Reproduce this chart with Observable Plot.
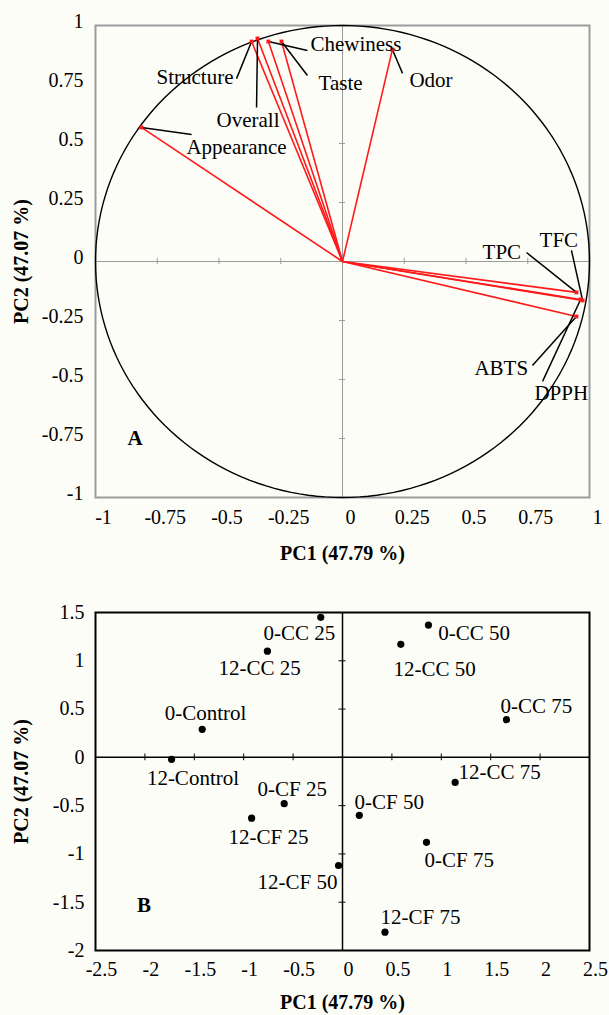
<!DOCTYPE html>
<html>
<head>
<meta charset="utf-8">
<script src="https://cdn.jsdelivr.net/npm/d3@7"></script>
<script src="https://cdn.jsdelivr.net/npm/@observablehq/plot@0.6"></script>
<style>
  html, body { margin: 0; padding: 0; background: #fdfdf8; }
  #wrap { position: relative; width: 609px; height: 1015px; overflow: hidden; }
  #wrap > svg { position: absolute; left: 0; }
  g[aria-label="x-axis label"] text, g[aria-label="y-axis label"] text { font-weight: bold; }
</style>
</head>
<body>
<div id="wrap"></div>
<script>
// ---------- Panel A: loadings ----------
const loadVars = ["Appearance", "Structure", "Overall", "Chewiness", "Taste", "Odor", "TPC", "TFC", "DPPH", "ABTS"];
const loadPC1  = [-0.814, -0.368, -0.344, -0.300, -0.247, 0.202, 0.947, 0.972, 0.964, 0.947];
const loadPC2  = [ 0.568,  0.932,  0.945,  0.932,  0.932, 0.898, -0.131, -0.165, -0.161, -0.233];
// annotation placement (data units): label left edge / middle, and leader start
const loadLabelX  = [-0.632, -0.753, -0.510, -0.130, -0.097, 0.271, 0.567, 0.798, 0.777, 0.534];
const loadLabelY  = [ 0.483,  0.780,  0.597,  0.919,  0.754, 0.767, 0.038, 0.089, -0.559, -0.453];
const leaderX     = [-0.611, -0.429, -0.348, -0.142, -0.142, 0.243, 0.745, 0.927, 0.810, 0.769];
const leaderY     = [ 0.538,  0.775,  0.653,  0.894,  0.788, 0.797, 0.038, 0.047, -0.508, -0.441];
const topTicks = [-1, -0.75, -0.5, -0.25, 0, 0.25, 0.5, 0.75, 1];

// ---------- Panel B: scores ----------
const samples = ["0-CC 25", "12-CC 25", "0-Control", "0-CC 50", "12-CC 50", "0-CC 75", "12-Control",
                 "0-CF 25", "12-CF 25", "12-CF 50", "0-CF 50", "12-CC 75", "0-CF 75", "12-CF 75"];
const scorePC1 = [-0.22, -0.76, -1.42, 0.87, 0.59, 1.66, -1.73, -0.59, -0.92, -0.04, 0.17, 1.14, 0.85, 0.43];
const scorePC2 = [ 1.45,  1.10,  0.29, 1.37, 1.17, 0.39, -0.02, -0.48, -0.63, -1.12, -0.60, -0.26, -0.88, -1.81];
const scoreLabelX = [-0.80, -1.255, -1.80, 0.97, 0.516, 1.60, -1.98, -0.86, -1.154, -0.86, 0.121, 1.174, 0.83, 0.385];
const scoreLabelY = [ 1.29,  0.92,  0.455, 1.29, 0.91, 0.527, -0.217, -0.33, -0.827, -1.293, -0.465, -0.155, -1.065, -1.655];
const bXTicks = [-2.5, -2, -1.5, -1, -0.5, 0, 0.5, 1, 1.5, 2, 2.5];
const bYTicks = [1.5, 1, 0.5, 0, -0.5, -1, -1.5, -2];

const xTitle = "PC1 (47.79 %)";
const yTitle = "PC2 (47.07 %)";

const FONT = '"Liberation Serif", "Times New Roman", serif';
const BG = "#fdfdf8";

const loadings = loadVars.map((name, i) => ({
  name, pc1: loadPC1[i], pc2: loadPC2[i],
  lx: loadLabelX[i], ly: loadLabelY[i], sx: leaderX[i], sy: leaderY[i]
}));
const scores = samples.map((name, i) => ({
  name, pc1: scorePC1[i], pc2: scorePC2[i], lx: scoreLabelX[i], ly: scoreLabelY[i]
}));
// unit correlation circle
const circle = d3.range(0, 361, 2).map(a => ({cx: Math.cos(a * Math.PI / 180), cy: Math.sin(a * Math.PI / 180)}));

const GRAY = "#9c9c9c";
const fmt = d => String(d);

const topPlot = Plot.plot({
  width: 609, height: 575,
  marginLeft: 95, marginRight: 20, marginTop: 25, marginBottom: 78,
  style: {fontFamily: FONT, fontSize: "20px", background: BG, color: "black", overflow: "visible"},
  x: {domain: [-1, 1]},
  y: {domain: [-1, 1]},
  marks: [
    Plot.ruleY([0], {stroke: GRAY, strokeWidth: 1}),
    Plot.ruleX([0], {stroke: GRAY, strokeWidth: 1}),
    Plot.ruleX(topTicks, {x: d => d, y1: -0.013, y2: 0.013, stroke: GRAY}),
    Plot.ruleY(topTicks, {y: d => d, x1: -0.012, x2: 0.012, stroke: GRAY}),
    Plot.frame({stroke: GRAY, strokeWidth: 2}),
    Plot.line(circle, {x: "cx", y: "cy", stroke: "black", strokeWidth: 1.4}),
    Plot.link(loadings, {x1: d => 0, y1: d => 0, x2: "pc1", y2: "pc2", stroke: "#ff1a1a", strokeWidth: 1.6}),
    Plot.link(loadings, {x1: "sx", y1: "sy", x2: "pc1", y2: "pc2", stroke: "black", strokeWidth: 1.5}),
    Plot.dot(loadings, {x: "pc1", y: "pc2", symbol: "square", r: 2.2, fill: "#ff1a1a"}),
    Plot.text(loadings, {x: "lx", y: "ly", text: "name", textAnchor: "start", fontSize: 21, fill: "black"}),
    Plot.text(["A"], {x: -0.87, y: -0.75, text: d => d, textAnchor: "start", fontSize: 21, fontWeight: "bold", fill: "black"}),
    Plot.axisX({ticks: topTicks, tickSize: 0, tickPadding: 12, dx: 8, tickFormat: fmt,
                label: xTitle, labelAnchor: "center", labelArrow: "none", labelOffset: 62, fontSize: 20}),
    Plot.axisY({ticks: topTicks, tickSize: 0, tickPadding: 12, dy: -4, tickFormat: fmt,
                label: yTitle, labelAnchor: "center", labelArrow: "none", labelOffset: 82, fontSize: 20})
  ]
});

const botPlot = Plot.plot({
  width: 609, height: 440,
  marginLeft: 95, marginRight: 20, marginTop: 37, marginBottom: 65,
  style: {fontFamily: FONT, fontSize: "20px", background: BG, color: "black", overflow: "visible"},
  x: {domain: [-2.5, 2.5]},
  y: {domain: [-2, 1.5]},
  marks: [
    Plot.ruleY([0], {stroke: "black", strokeWidth: 1.5}),
    Plot.ruleX([0], {stroke: "black", strokeWidth: 1.5}),
    Plot.ruleX(bXTicks, {x: d => d, y1: -0.035, y2: 0.035, stroke: "black"}),
    Plot.ruleY(bYTicks, {y: d => d, x1: -0.035, x2: 0.035, stroke: "black"}),
    Plot.frame({stroke: "black", strokeWidth: 2}),
    Plot.dot(scores, {x: "pc1", y: "pc2", r: 3.6, fill: "black"}),
    Plot.text(scores, {x: "lx", y: "ly", text: "name", textAnchor: "start", fontSize: 21, fill: "black"}),
    Plot.text(["B"], {x: -2.08, y: -1.53, text: d => d, textAnchor: "start", fontSize: 21, fontWeight: "bold", fill: "black"}),
    Plot.axisX({ticks: bXTicks, tickSize: 0, tickPadding: 11, dx: 6, tickFormat: fmt,
                label: xTitle, labelAnchor: "center", labelArrow: "none", labelOffset: 58, fontSize: 20}),
    Plot.axisY({ticks: bYTicks, tickSize: 0, tickPadding: 11, tickFormat: fmt,
                label: yTitle, labelAnchor: "center", labelArrow: "none", labelOffset: 82, fontSize: 20})
  ]
});

const wrap = document.getElementById("wrap");
topPlot.style.top = "0px";
botPlot.style.top = "575px";
wrap.appendChild(topPlot);
wrap.appendChild(botPlot);
</script>
</body>
</html>
